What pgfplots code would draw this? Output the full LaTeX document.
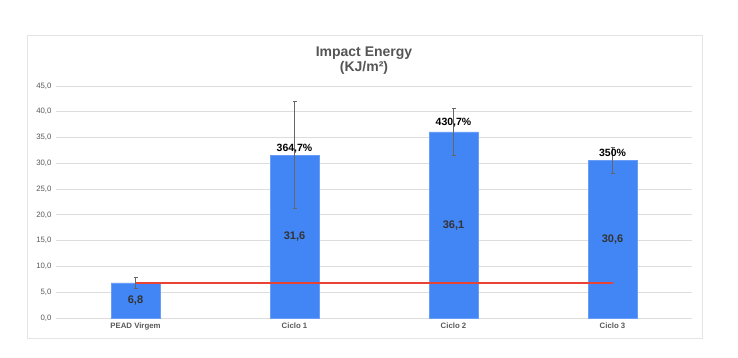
\documentclass[border=0pt]{standalone}
\usepackage{pgfplots}
\pgfplotsset{compat=1.18}
\usepackage{fontspec}
\setmainfont{Liberation Sans}
\definecolor{barblue}{HTML}{4285F4}
\definecolor{baredge}{HTML}{6A9EF6}
\definecolor{redline}{HTML}{EA4335}
\definecolor{gridc}{HTML}{DDDDDD}
\definecolor{ticktxt}{HTML}{595959}
\definecolor{valtxt}{HTML}{333333}
\definecolor{titletxt}{HTML}{555555}
\begin{document}
\begin{tikzpicture}
\fill[white] (-56pt,-40pt) rectangle (682pt,318pt);
\draw[color=gridc!80, line width=0.8pt] (-29pt,-20pt) rectangle (646pt,283pt);
\node[font=\bfseries\fontsize{14}{16}\selectfont, text=titletxt, anchor=base] at (308pt,261pt) {Impact Energy};
\node[font=\bfseries\fontsize{14}{16}\selectfont, text=titletxt, anchor=base] at (308pt,246pt) {(KJ/m²)};
\begin{axis}[
  scale only axis, width=636pt, height=232pt,
  xmin=-0.5, xmax=3.5, ymin=0, ymax=45,
  xtick={0,1,2,3},
  xticklabels={PEAD Virgem, Ciclo 1, Ciclo 2, Ciclo 3},
  ytick={0,5,...,45},
  yticklabel={\pgfmathprintnumber[fixed,fixed zerofill,precision=1,use comma]{\tick}},
  /pgf/number format/assume math mode=true,
  ymajorgrids, grid style={color=gridc, line width=0.9pt},
  axis line style={draw=none},
  tick style={draw=none},
  ticklabel style={text=ticktxt},
  yticklabel style={font=\fontsize{7.8}{9}\selectfont, xshift=-1pt},
  xticklabel style={font=\bfseries\fontsize{7.8}{9}\selectfont, yshift=-1pt},
  clip=false,
]
\addplot[ybar, bar width=49pt, fill=barblue, draw=baredge, line width=0.6pt,
  error bars/.cd, y dir=both, y explicit,
  error bar style={color=black!60, line width=0.8pt},
  error mark options={rotate=90, mark size=2pt, color=black!60, line width=0.6pt}]
  coordinates {(0,6.8) +- (0,1.1) (1,31.6) +- (0,10.4) (2,36.1) +- (0,4.6) (3,30.6) +- (0,2.6)};
\addplot[color=redline, line width=2pt] coordinates {(0,6.8) (3,6.8)};
\node[font=\bfseries\fontsize{11}{13}\selectfont, text=valtxt] at (axis cs:0,3.3) {6,8};
\node[font=\bfseries\fontsize{11}{13}\selectfont, text=valtxt] at (axis cs:1,15.8) {31,6};
\node[font=\bfseries\fontsize{11}{13}\selectfont, text=valtxt] at (axis cs:2,18.0) {36,1};
\node[font=\bfseries\fontsize{11}{13}\selectfont, text=valtxt] at (axis cs:3,15.2) {30,6};
\node[font=\bfseries\fontsize{10.5}{12}\selectfont, text=black] at (axis cs:1,32.8) {364,7\%};
\node[font=\bfseries\fontsize{10.5}{12}\selectfont, text=black] at (axis cs:2,37.8) {430,7\%};
\node[font=\bfseries\fontsize{10.5}{12}\selectfont, text=black] at (axis cs:3,32.0) {350\%};
\end{axis}
\end{tikzpicture}
\end{document}
